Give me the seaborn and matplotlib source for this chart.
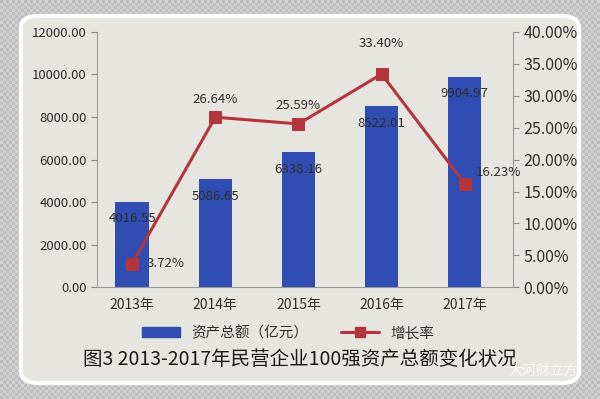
import numpy as np
import matplotlib.pyplot as plt
import seaborn as sns
from matplotlib.patches import FancyBboxPatch, Rectangle
from matplotlib.lines import Line2D

years = ["2013年", "2014年", "2015年", "2016年", "2017年"]
assets = [4016.55, 5086.65, 6338.16, 8522.01, 9904.97]
growth = [3.72, 26.64, 25.59, 33.40, 16.23]

sns.set_style("white")
plt.rcParams["font.family"] = ["Noto Sans CJK SC", "DejaVu Sans"]

bar_color = "#2f4db3"
line_color = "#b3353c"
text_color = "#2e2e2e"
bg_color = "#e7e5e0"

fig = plt.figure(figsize=(6, 3.99), dpi=100)
fig.patch.set_facecolor("#cdcdcd")

# checker background + photo frame
checker = np.indices((133, 200)).sum(axis=0) % 2
checker = np.kron(checker, np.ones((3, 3)))[:399, :600]
fig.figimage(0.74 + 0.08 * checker, cmap="gray", vmin=0, vmax=1, zorder=0)
frame = FancyBboxPatch((0.035, 0.04), 0.93, 0.92, boxstyle="round,pad=0,rounding_size=0.03",
                       transform=fig.transFigure, facecolor=bg_color, edgecolor="white",
                       linewidth=3, zorder=1)
fig.patches.append(frame)

ax = fig.add_axes([0.162, 0.28, 0.693, 0.64])
ax.set_facecolor("none")
ax.set_zorder(3)

sns.barplot(x=years, y=assets, color=bar_color, width=0.4, ax=ax, saturation=1,
            edgecolor="none")
ax.bar_label(ax.containers[0], fmt="%.2f", padding=-17, fontsize=9.5, color=text_color)
ax.set_ylim(0, 12000)
ax.set_yticks(np.arange(0, 12001, 2000))
ax.set_yticklabels([f"{v:.2f}" for v in np.arange(0, 12001, 2000)], fontsize=9.5, color=text_color)
ax.set_xlim(-0.42, 4.58)
ax.set_xticks(range(len(years)))
ax.set_xticklabels(years, fontsize=10, color=text_color)
ax.set_xticks(np.arange(0.5, 4.0, 1), minor=True)
ax.tick_params(axis="x", which="major", length=0, pad=8)
ax.tick_params(axis="x", which="minor", length=4, color="#888888", direction="out")
ax.tick_params(axis="y", length=4, color="#888888", direction="out")
for s in ["top", "right"]:
    ax.spines[s].set_visible(False)
for s in ["left", "bottom"]:
    ax.spines[s].set_color("#999999")

ax2 = ax.twinx()
sns.lineplot(x=np.arange(len(years)), y=growth, color=line_color, linewidth=2.2,
             marker="s", markersize=8, markeredgecolor=line_color, ax=ax2)
ax2.set_ylim(0, 40)
ax2.set_yticks(np.arange(0, 40.1, 5))
ax2.set_yticklabels([f"{v:.2f}%" for v in np.arange(0, 40.1, 5)], fontsize=11.5, color=text_color)
ax2.tick_params(axis="y", length=4, color="#888888", direction="out")
for s in ["top", "left", "bottom"]:
    ax2.spines[s].set_visible(False)
ax2.spines["right"].set_color("#999999")
ax.set_xlim(-0.42, 4.58)

offsets = [(24, 0), (0, 13), (0, 13), (0, 22), (24, 8)]
for i, (g, off) in enumerate(zip(growth, offsets)):
    ax2.annotate(f"{g:.2f}%", (i, g), xytext=off, textcoords="offset points",
                 ha="center", va="center", fontsize=9.5, color=text_color)

handles = [Rectangle((0, 0), 1, 1, color=bar_color),
           Line2D([0], [0], color=line_color, linewidth=2.2, marker="s", markersize=7)]
fig.legend(handles, ["资产总额（亿元）", "增长率"], loc="center", bbox_to_anchor=(0.48, 0.165),
           ncol=2, frameon=False, fontsize=10.5, handlelength=2.6, columnspacing=2.2,
           labelcolor=text_color)

fig.text(0.5, 0.1, "图3 2013-2017年民营企业100强资产总额变化状况", ha="center", va="center",
         fontsize=14, fontweight="medium", color="#1a1a1a")
fig.text(0.905, 0.07, "大河财立方", ha="center", va="center", fontsize=10, color="white", alpha=0.8)

fig.savefig("out.png", dpi=100, facecolor=fig.get_facecolor())
